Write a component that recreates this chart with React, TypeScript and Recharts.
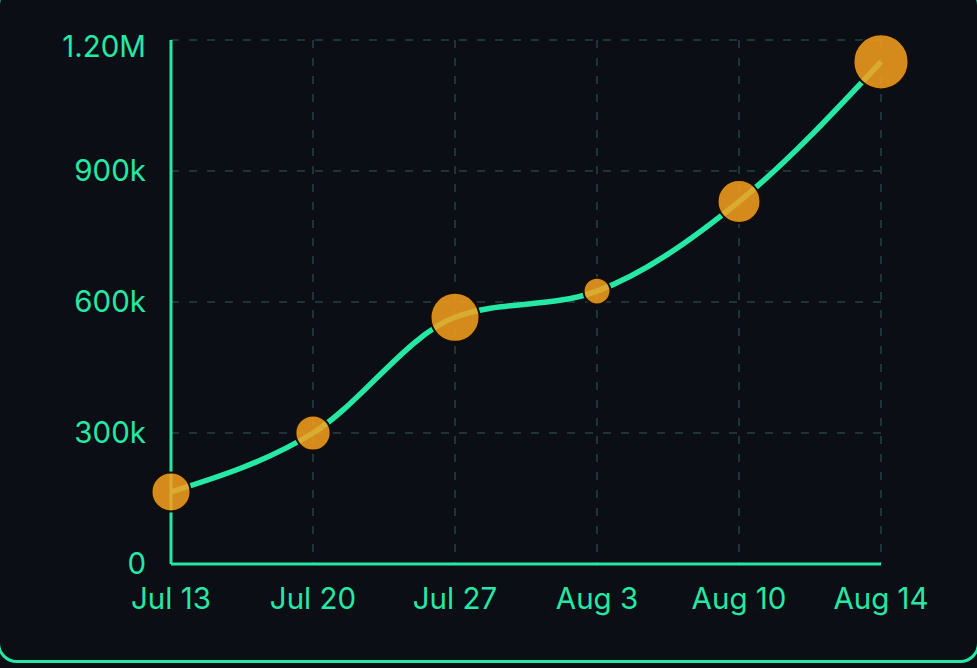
import React from "react"
import {
  ComposedChart,
  CartesianGrid,
  XAxis,
  YAxis,
  ZAxis,
  Line,
  Scatter,
} from "recharts"

const dates = ["Jul 13", "Jul 20", "Jul 27", "Aug 3", "Aug 10", "Aug 14"]
const totals = [165000, 300000, 565000, 625000, 830000, 1150000]
const weights = [38, 31, 60, 18, 46, 76]
const yTicks = [0, 300000, 600000, 900000, 1200000]

const GREEN = "#25e8a5"
const BG = "#0b0e14"

const data = dates.map((date, i) => ({ date, value: totals[i], weight: weights[i] }))

const fmt = (v: number) => {
  if (v >= 1000000) return (v / 1000000).toFixed(2) + "M"
  if (v === 0) return "0"
  return v / 1000 + "k"
}

function YTick(props: any) {
  const { x, y, payload } = props
  // top label sits a little lower so it doesn't hug the edge
  const shift = payload.value === 1200000 ? 7 : 0
  return (
    <text x={x} y={y + shift} dy="0.355em" textAnchor="end" fill={GREEN} fontSize={29.5}>
      {fmt(payload.value)}
    </text>
  )
}

export default function App() {
  return (
    <div
      style={{
        position: "fixed",
        top: 0,
        left: 0,
        width: 977,
        height: 668,
        background: BG,
        overflow: "hidden",
        fontFamily: "Inter, sans-serif",
      }}
    >
      <div
        style={{
          position: "absolute",
          left: -3,
          top: -15,
          width: 983,
          height: 678,
          boxSizing: "border-box",
          border: `3px solid ${GREEN}`,
          borderRadius: 20,
        }}
      />
      <div style={{ position: "absolute", left: 0, top: 0 }}>
        <ComposedChart
          width={977}
          height={668}
          data={data}
          margin={{ top: 40, right: 96, bottom: 44, left: 0 }}
        >
          <CartesianGrid stroke="#1f3438" strokeWidth={2} strokeDasharray="8 10" />
          <XAxis
            dataKey="date"
            height={60}
            axisLine={{ stroke: GREEN, strokeWidth: 3 }}
            tickLine={false}
            tickSize={0}
            tickMargin={24}
            tick={{ fill: GREEN, fontSize: 29.5 }}
            interval={0}
          />
          <YAxis
            width={171}
            domain={[0, 1200000]}
            ticks={yTicks}
            axisLine={{ stroke: GREEN, strokeWidth: 3 }}
            tickLine={false}
            tickSize={0}
            tickMargin={25}
            tick={<YTick />}
            interval={0}
          />
          <ZAxis type="number" dataKey="weight" domain={[0, 100]} range={[0, 3141.6]} />
          <Line
            type="monotone"
            dataKey="value"
            stroke={GREEN}
            strokeWidth={5.5}
            dot={false}
            activeDot={false}
            isAnimationActive={false}
          />
          <Scatter
            dataKey="value"
            fill="#f8a11c"
            fillOpacity={0.85}
            stroke="#140e06"
            strokeWidth={2}
            isAnimationActive={false}
          />
        </ComposedChart>
      </div>
    </div>
  )
}
